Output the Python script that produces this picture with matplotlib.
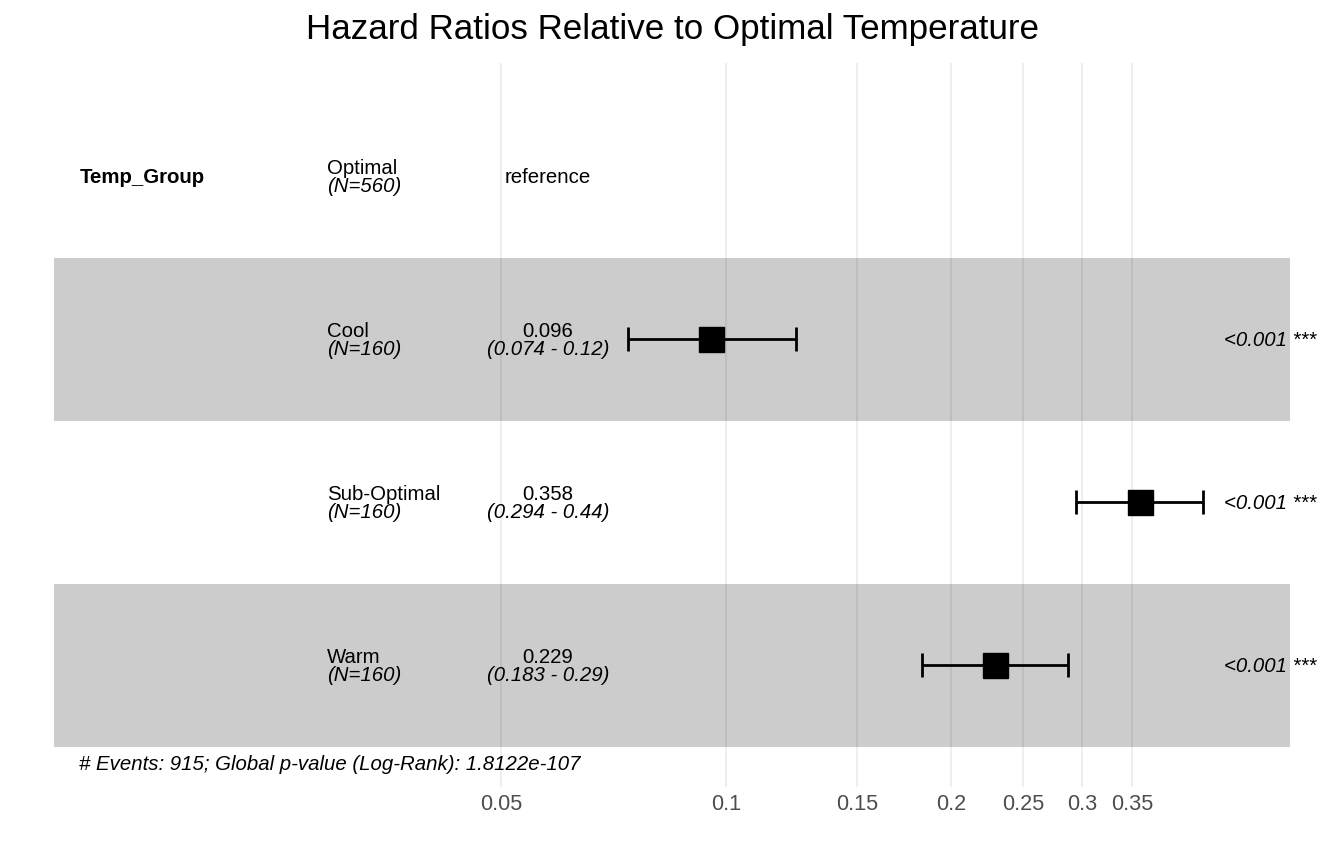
import numpy as np
import matplotlib
matplotlib.use("Agg")
import matplotlib.pyplot as plt

plt.rcParams['font.family'] = ['Liberation Sans', 'DejaVu Sans']

# ---- data ----
variable = "Temp_Group"
groups = ["Optimal", "Cool", "Sub-Optimal", "Warm"]
n_obs = [560, 160, 160, 160]
hr = [np.nan, 0.0955, 0.358, 0.229]
ci_lo = [np.nan, 0.074, 0.294, 0.183]
ci_hi = [np.nan, 0.124, 0.435, 0.287]
hr_text = ["reference", "0.096", "0.358", "0.229"]
ci_text = ["", "(0.074 - 0.12)", "(0.294 - 0.44)", "(0.183 - 0.29)"]
p_text = ["", "<0.001 ***", "<0.001 ***", "<0.001 ***"]
ticks = [0.05, 0.1, 0.15, 0.2, 0.25, 0.3, 0.35]
tick_labels = ["0.05", "0.1", "0.15", "0.2", "0.25", "0.3", "0.35"]
title = "Hazard Ratios Relative to Optimal Temperature"
footer = "# Events: 915; Global p-value (Log-Rank): 1.8122e-107"

W, H = 1344, 864
fig = plt.figure(figsize=(W / 100, H / 100), dpi=100)
ax_l, ax_r, ax_t, ax_b = 54, 1290, 63, 787
ax = fig.add_axes([ax_l / W, 1 - ax_b / H, (ax_r - ax_l) / W, (ax_b - ax_t) / H])

# log x scale
ax.set_xscale('log')
px_per_ln = 324.5
x_ref_px = 501
ax.set_xlim(0.05 * np.exp(-(x_ref_px - ax_l) / px_per_ln),
            0.05 * np.exp((ax_r - x_ref_px) / px_per_ln))

nrows = len(groups)
ypos = [nrows - i for i in range(nrows)]  # Optimal at top
row_px = 163
ax.set_ylim(1 - (ax_b - 665) / row_px, nrows + (176 - ax_t) / row_px)

# grid
for t in ticks:
    ax.axvline(t, color='#EBEBEB', lw=1.2, zorder=0)

# bands
for i, y in enumerate(ypos):
    if i % 2 == 1:
        ax.axhspan(y - 0.5, y + 0.5, color='black', alpha=0.2, lw=0, zorder=1)

# error bars and points
for i, y in enumerate(ypos):
    if np.isnan(hr[i]):
        continue
    ax.errorbar([hr[i]], [y], xerr=[[hr[i] - ci_lo[i]], [ci_hi[i] - hr[i]]],
                fmt='none', ecolor='black', elinewidth=2.0, capsize=8.7,
                capthick=2.0, zorder=3)
    ax.plot([hr[i]], [y], marker='s', color='black', markersize=18,
            linestyle='none', zorder=4)

tr = ax.get_yaxis_transform()
fs = 14.7

def fx(px):
    return (px - ax_l) / (ax_r - ax_l)

for i, y in enumerate(ypos):
    if i == 0:
        ax.annotate(variable, xy=(fx(80), y), xycoords=tr, xytext=(0, -1),
                    textcoords='offset pixels', ha='left', va='center',
                    fontsize=fs, fontweight='bold')
    ax.annotate(groups[i], xy=(fx(327), y), xycoords=tr, xytext=(0, 2),
                textcoords='offset pixels', ha='left', va='baseline', fontsize=fs)
    ax.annotate(f"(N={n_obs[i]})", xy=(fx(327), y), xycoords=tr, xytext=(0, -16),
                textcoords='offset pixels', ha='left', va='baseline', fontsize=fs,
                style='italic')
    if ci_text[i] == "":
        ax.annotate(hr_text[i], xy=(fx(548), y), xycoords=tr, xytext=(0, -1),
                    textcoords='offset pixels', ha='center', va='center',
                    fontsize=fs)
    else:
        ax.annotate(hr_text[i], xy=(fx(548), y), xycoords=tr, xytext=(0, 2),
                    textcoords='offset pixels', ha='center', va='baseline', fontsize=fs)
        ax.annotate(ci_text[i], xy=(fx(548), y), xycoords=tr, xytext=(0, -16),
                    textcoords='offset pixels', ha='center', va='baseline', fontsize=fs,
                    style='italic')
    if p_text[i]:
        ax.annotate(p_text[i], xy=(fx(1316), y), xycoords=tr, xytext=(0, -1),
                    textcoords='offset pixels', ha='right', va='center',
                    fontsize=fs, style='italic', annotation_clip=False)

ax.text(fx(79), 1 - (764 - 665) / row_px, footer, transform=tr, ha='left',
        va='center', fontsize=fs, style='italic')

ax.set_xticks(ticks)
ax.set_xticklabels(tick_labels)
ax.xaxis.set_minor_locator(matplotlib.ticker.NullLocator())
ax.tick_params(axis='x', length=0, pad=5, labelsize=15.6, labelcolor='#4D4D4D')
ax.set_yticks([])
for s in ax.spines.values():
    s.set_visible(False)

fig.text(0.5, 1 - 29 / H, title, ha='center', va='center', fontsize=25.2)

fig.savefig("out.png", dpi=100)
